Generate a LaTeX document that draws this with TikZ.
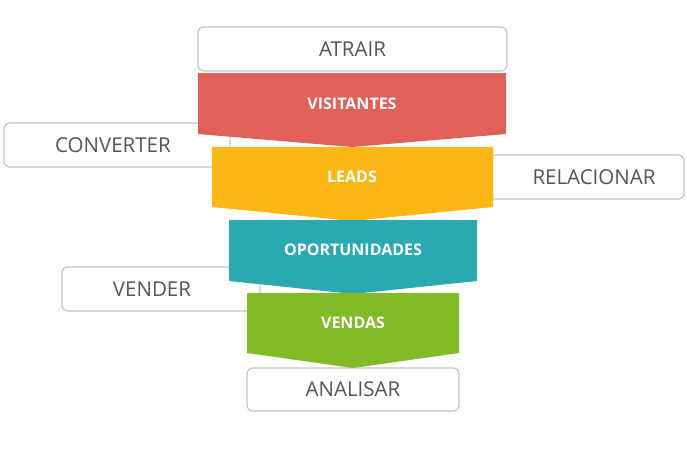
\documentclass[tikz,border=0pt]{standalone}
\usepackage{fontspec}
\setmainfont{Open Sans}
\definecolor{boxline}{HTML}{C4C4C4}
\definecolor{boxtext}{HTML}{555555}
\definecolor{cred}{HTML}{E0605A}
\definecolor{cyellow}{HTML}{FDB714}
\definecolor{cteal}{HTML}{2BA9B1}
\definecolor{cgreen}{HTML}{83BA28}
\begin{document}
\begin{tikzpicture}[x=1pt,y=-1pt,
  stagebox/.style={draw=boxline, line width=1.2pt, fill=white, rounded corners=6pt},
  boxlabel/.style={text=boxtext, font=\fontsize{20.5}{24}\selectfont, anchor=center},
  seglabel/.style={text=white, font=\fontsize{16}{19}\bfseries\selectfont, anchor=center}]
\useasboundingbox (0,0) rectangle (687,450);
% side boxes (behind funnel)
\draw[stagebox] (198,27) rectangle (507,71);
\node[boxlabel] (atrair) at (352.5,49) {ATRAIR};
\draw[stagebox] (4,123) rectangle (230,167);
\node[boxlabel] (converter) at (113,145) {CONVERTER};
\draw[stagebox] (475,155) rectangle (684,199);
\node[boxlabel] (relacionar) at (594,177) {RELACIONAR};
\draw[stagebox] (62,267) rectangle (260,311);
\node[boxlabel] (vender) at (152,289) {VENDER};
\draw[stagebox] (247,368) rectangle (459,411);
\node[boxlabel] (analisar) at (353,389.5) {ANALISAR};
% funnel segments
\fill[cred] (198,73) -- (506,73) -- (506,134) -- (352,147) -- (198,134) -- cycle;
\node[seglabel] (visitantes) at (352,104) {VISITANTES};
\fill[cyellow] (212,147) -- (493,147) -- (493,207) -- (352,221) -- (212,207) -- cycle;
\node[seglabel] (leads) at (352,177) {LEADS};
\fill[cteal] (229,220) -- (477,220) -- (477,281) -- (353,294) -- (229,281) -- cycle;
\node[seglabel] (oport) at (353,250) {OPORTUNIDADES};
\fill[cgreen] (247,293) -- (459,293) -- (459,353) -- (353,368) -- (247,353) -- cycle;
\node[seglabel] (vendas) at (353,323) {VENDAS};
\end{tikzpicture}
\end{document}
